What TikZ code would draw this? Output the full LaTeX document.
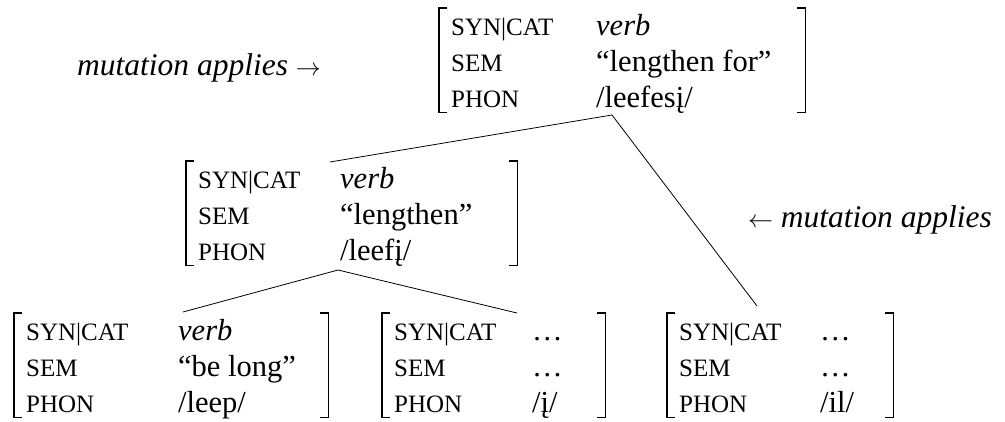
\documentclass[tikz,border=0pt]{standalone}
\usepackage{fontspec}
\setmainfont{Liberation Serif}
\tikzset{
  avmvalue/.style={anchor=base west, inner sep=0pt, font=\fontsize{30.5}{36}\selectfont},
  avmlabel/.style={anchor=base west, inner sep=0pt, font=\fontsize{25}{30}\selectfont},
  note/.style={anchor=base west, inner sep=0pt, font=\fontsize{31.5}{36}\selectfont\itshape},
  bracket/.style={line width=1.7pt, line join=miter},
  branch/.style={line width=0.8pt},
  avmframe/.style={draw=none, inner sep=0pt, minimum height=104pt, anchor=north west}
}
% \avmbox{name}{left bracket x}{right bracket x}{top y}{value x}{cat}{sem}{phon}
\newcommand{\avmbox}[8]{%
  \node[avmframe, minimum width={(#3-#2)*1pt}] (#1) at (#2,#4) {};
  \draw[bracket] ([xshift=8pt]#1.north west) -- (#1.north west)
                 -- (#1.south west) -- ([xshift=8pt]#1.south west);
  \draw[bracket] ([xshift=-8pt]#1.north east) -- (#1.north east)
                 -- (#1.south east) -- ([xshift=-8pt]#1.south east);
  \node[avmlabel] (#1-k1) at (#2+12,#4+27) {SYN|CAT};
  \node[avmlabel] (#1-k2) at (#2+12,#4+63) {SEM};
  \node[avmlabel] (#1-k3) at (#2+12,#4+99) {PHON};
  \node[avmvalue] (#1-v1) at (#5,#4+27) {#6};
  \node[avmvalue] (#1-v2) at (#5,#4+63) {#7};
  \node[avmvalue] (#1-v3) at (#5,#4+99) {#8};
}
\begin{document}
\begin{tikzpicture}[x=1pt,y=-1pt]
  \useasboundingbox (0,0) rectangle (1005,421);

  % feature structures
  \avmbox{root}{439}{805}{8}{596}{\textit{verb}}{“lengthen for”}{/leefesį/}
  \avmbox{stem}{186}{517}{161}{340}{\textit{verb}}{“lengthen”}{/leefį/}
  \avmbox{base}{14}{328}{313}{178}{\textit{verb}}{“be long”}{/leep/}
  \avmbox{sufA}{382}{605}{313}{532}{…}{…}{/į/}
  \avmbox{sufB}{667}{893}{313}{820}{…}{…}{/il/}

  % annotations
  \node[note] (noteL) at (77,75) {mutation applies $\rightarrow$};
  \node[note] (noteR) at (748,227) {$\leftarrow$ mutation applies};

  % branch points
  \coordinate (rootfoot) at (612,115);
  \coordinate (stemhead) at (330,162);
  \coordinate (sufBhead) at (757,306);
  \coordinate (stemfoot) at (338,270);
  \coordinate (basehead) at (183,312);
  \coordinate (sufAhead) at (517,313);

  \draw[branch] (stemhead) -- (rootfoot) -- (sufBhead);
  \draw[branch] (basehead) -- (stemfoot) -- (sufAhead);
\end{tikzpicture}
\end{document}
